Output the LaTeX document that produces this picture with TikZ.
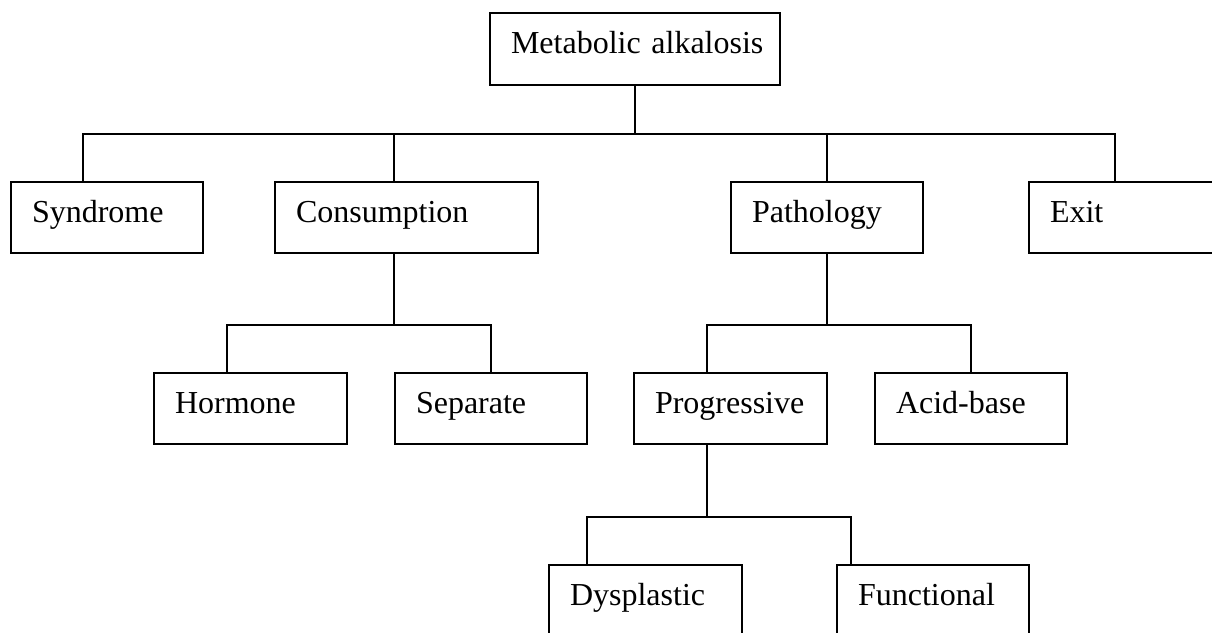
\documentclass[tikz,border=0pt]{standalone}
\usepackage{fontspec}
\setmainfont{Liberation Serif}
\begin{document}
\begin{tikzpicture}[x=1pt,y=-1pt,
  box/.style={draw, line width=1.8pt, rectangle, anchor=north west, outer sep=0pt,
    minimum height=71pt, inner xsep=21pt, inner ysep=0pt,
    text height=20pt, text depth=11pt, align=left,
    font=\fontsize{32}{38}\selectfont},
  conn/.style={line width=1.8pt}]
\useasboundingbox (0,0) rectangle (1212,632);
% boxes
\node[box, minimum width=290pt, minimum height=72pt, text width=248pt] (meta) at (490,13) {\mbox{Metabolic alkalosis}};
\node[box, minimum width=192pt, text width=150pt] (syn) at (11,182) {Syndrome};
\node[box, minimum width=263pt, text width=221pt] (cons) at (275,182) {Consumption};
\node[box, minimum width=192pt, text width=150pt] (path) at (731,182) {Pathology};
\node[box, minimum width=200pt, text width=158pt] (exit) at (1029,182) {Exit};
\node[box, minimum width=193pt, text width=151pt] (horm) at (154,373) {Hormone};
\node[box, minimum width=192pt, text width=150pt] (sep) at (395,373) {Separate};
\node[box, minimum width=193pt, text width=151pt] (prog) at (634,373) {Progressive};
\node[box, minimum width=192pt, text width=150pt] (acid) at (875,373) {Acid-base};
\node[box, minimum width=193pt, text width=151pt] (dys) at (549,565) {Dysplastic};
\node[box, minimum width=192pt, text width=150pt] (func) at (837,565) {Functional};
% junctions
\coordinate (j0) at (635,134);
\coordinate (j1) at (394,325);
\coordinate (j2) at (827,325);
\coordinate (j3) at (707,517);
% connectors
\draw[conn] (meta.south) -- (j0);
\draw[conn] ([xshift=72pt]syn.north west) |- (j0);
\draw[conn] ([xshift=119pt]cons.north west) |- (j0);
\draw[conn] (path.north) |- (j0);
\draw[conn] ([xshift=86pt]exit.north west) |- (j0);
\draw[conn] ([xshift=119pt]cons.south west) -- (j1);
\draw[conn] ([xshift=73pt]horm.north west) |- (j1);
\draw[conn] ([xshift=96pt]sep.north west) |- (j1);
\draw[conn] (path.south) -- (j2);
\draw[conn] ([xshift=73pt]prog.north west) |- (j2);
\draw[conn] ([xshift=96pt]acid.north west) |- (j2);
\draw[conn] ([xshift=73pt]prog.south west) -- (j3);
\draw[conn] ([xshift=38pt]dys.north west) |- (j3);
\draw[conn] ([xshift=14pt]func.north west) |- (j3);
\end{tikzpicture}
\end{document}
